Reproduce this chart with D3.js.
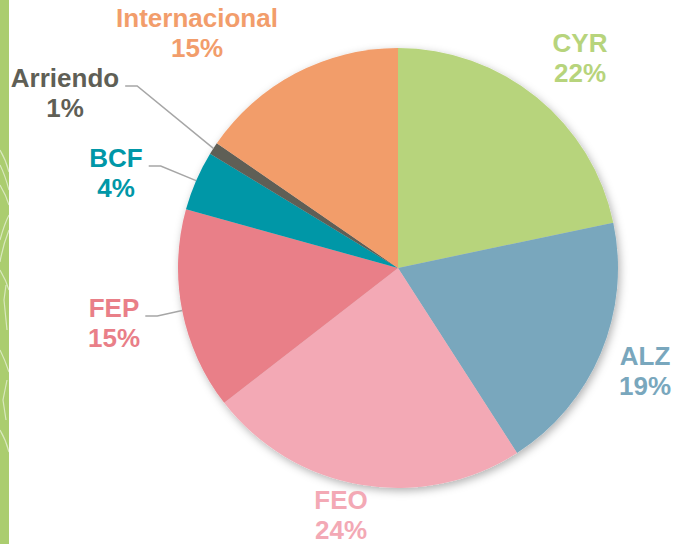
<!DOCTYPE html>
<html>
<head>
<meta charset="utf-8">
<script src="https://cdn.jsdelivr.net/npm/d3@7"></script>
<style>
  body { margin: 0; background: #fff; }
  svg { display: block; }
</style>
</head>
<body>
<svg id="chart"></svg>
<script>
var width = 676
var height = 544

// slices, clockwise from 12 o'clock
var names = ["CYR", "ALZ", "FEO", "FEP", "BCF", "Arriendo", "Internacional"]
var values = [21.7, 19.2, 23.6, 14.8, 4.4, 0.9, 15.4]
var colors = ["#b7d47c", "#79a7bd", "#f3a9b5", "#e97f88", "#0097a7", "#5f5f56", "#f29d6b"]

// label anchor (text centre, first baseline) and whether a leader line is drawn
var labelX = [580, 645, 341, 114, 116, 65, 197]
var labelY = [52, 365, 509, 317, 167, 87, 27]
var leader = [false, false, false, true, true, true, false]

var cx = 398, cy = 268, radius = 220

var svg = d3.select("#chart")
    .attr("width", width)
    .attr("height", height)

var defs = svg.append("defs")
var shadow = defs.append("filter")
    .attr("id", "shadow")
    .attr("x", "-20%").attr("y", "-20%")
    .attr("width", "140%").attr("height", "140%")
shadow.append("feDropShadow")
    .attr("dx", 2)
    .attr("dy", 3)
    .attr("stdDeviation", 4)
    .attr("flood-color", "#000")
    .attr("flood-opacity", 0.3)

// green strip on the left edge with faint white ornament
var strip = svg.append("g")
strip.append("rect")
    .attr("x", 0).attr("y", 0)
    .attr("width", 9).attr("height", height)
    .attr("fill", "#abcd6f")
var ornament = [
    "M0,150 Q6,160 9,172", "M0,165 Q5,175 9,190", "M0,185 Q6,195 9,205",
    "M9,215 Q4,225 0,240", "M9,230 Q3,245 0,262", "M0,270 Q6,280 9,290",
    "M6,285 L4,300 L7,330", "M0,350 Q5,360 9,372", "M7,380 L3,400 L6,420",
    "M0,430 Q6,440 9,452"
]
strip.selectAll("path")
    .data(ornament)
    .enter()
    .append("path")
    .attr("d", d => d)
    .attr("fill", "none")
    .attr("stroke", "#ffffff")
    .attr("stroke-opacity", 0.55)
    .attr("stroke-width", 1.2)

var data = names.map((n, i) => ({
    name: n, value: values[i], color: colors[i],
    lx: labelX[i], ly: labelY[i], leader: leader[i]
}))

var pie = d3.pie()
    .value(d => d.value)
    .sort(null)

var arc = d3.arc()
    .innerRadius(0)
    .outerRadius(radius)

var arcs = pie(data)

var g = svg.append("g")
    .attr("transform", "translate(" + cx + "," + cy + ")")

g.append("g")
    .attr("filter", "url(#shadow)")
    .selectAll("path")
    .data(arcs)
    .enter()
    .append("path")
    .attr("d", arc)
    .attr("fill", d => d.data.color)

// leader lines: short horizontal tail at the label, then to the slice rim
var lines = svg.append("g")
lines.selectAll("polyline")
    .data(arcs.filter(d => d.data.leader))
    .enter()
    .append("polyline")
    .attr("points", function(d) {
        var mid = (d.startAngle + d.endAngle) / 2
        var ex = cx + radius * Math.sin(mid)
        var ey = cy - radius * Math.cos(mid)
        var tw = d.data.name.length * 8.2
        var sx = d.data.lx + tw + 1
        var y0 = d.data.ly - 0
        return [[sx, y0], [sx + 12, y0], [ex, ey]].map(p => p.join(",")).join(" ")
    })
    .attr("fill", "none")
    .attr("stroke", "#a6a6a6")
    .attr("stroke-width", 1.5)

var labels = svg.append("g")
    .style("font-family", "'Liberation Sans', Arial, sans-serif")
    .style("font-weight", "bold")
    .style("font-size", "26px")

labels.selectAll("text")
    .data(arcs)
    .enter()
    .append("text")
    .attr("text-anchor", "middle")
    .attr("fill", d => d.data.color)
    .each(function(d) {
        var t = d3.select(this)
        t.append("tspan")
            .attr("x", d.data.lx)
            .attr("y", d.data.ly)
            .text(d.data.name)
        t.append("tspan")
            .attr("x", d.data.lx)
            .attr("y", d.data.ly + 30)
            .text(Math.round(d.data.value) + "%")
    })

// leader tails start at the right edge of the first label line
labels.selectAll("text").each(function(d) {
    if (!d.data.leader) return
    var bb = this.firstChild.getBBox()
    var mid = (d.startAngle + d.endAngle) / 2
    var ex = cx + radius * Math.sin(mid)
    var ey = cy - radius * Math.cos(mid)
    var sx = bb.x + bb.width + 6
    var y0 = d.data.ly - 1
    lines.selectAll("polyline")
        .filter(p => p.data.name === d.data.name)
        .attr("points", [[sx, y0], [sx + 12, y0], [ex, ey]].map(p => p.join(",")).join(" "))
})
</script>
</body>
</html>
